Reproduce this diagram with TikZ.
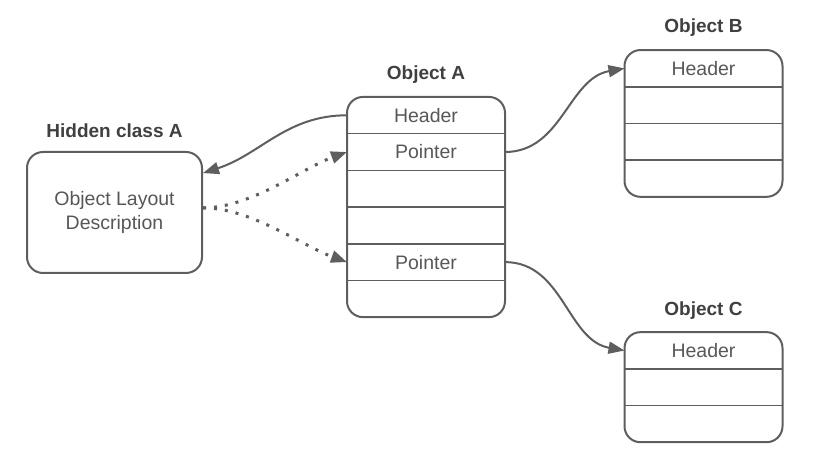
\documentclass[tikz,border=0pt]{standalone}
\usepackage{fontspec}
\setmainfont{Liberation Sans}
\usetikzlibrary{arrows.meta, positioning}
\definecolor{strek}{HTML}{5E5E5E}
\definecolor{tekst}{HTML}{575757}
\definecolor{mork}{HTML}{404040}

\begin{document}
\begin{tikzpicture}[
    x=1pt, y=1pt,
    node distance = 0pt,
    felt/.style = {rectangle, minimum width=158pt, minimum height=36.7pt,
        inner sep=0pt, outer sep=0pt, text=tekst},
    boks/.style = {rectangle, draw=strek, line width=2pt, rounded corners=16pt,
        minimum width=175pt, minimum height=121pt, align=center, text=tekst},
    ramme/.style = {strek, line width=2pt, rounded corners=16pt},
    skille/.style = {strek, line width=1.6pt},
    overskrift/.style = {font=\fontsize{19}{22}\selectfont\bfseries, text=mork, inner sep=0pt},
    pil/.style = {strek, line width=2pt, -{Triangle[length=16pt,width=12pt]}},
    prikk/.style = {strek, line width=3pt, dash pattern=on 3pt off 8pt,
        -{Triangle[length=16pt,width=12pt]}},
    font=\fontsize{19.5}{24}\selectfont
    ]
    \useasboundingbox (0,0) rectangle (817,457);
    %nodes
    \node[boks] (skjult) at (114.5,244.5) {Object Layout\\Description};
    \node[overskrift, above=13pt of skjult] (tskjult) {Hidden class A};

    \node[felt] (a1) at (426,341.7) {Header};
    \node[felt, below=of a1] (a2) {Pointer};
    \node[felt, below=of a2] (a3) {};
    \node[felt, below=of a3] (a4) {};
    \node[felt, below=of a4] (a5) {Pointer};
    \node[felt, below=of a5] (a6) {};
    \node[overskrift, above=13pt of a1] (tA) {Object A};

    \node[felt] (b1) at (703.5,388.6) {Header};
    \node[felt, below=of b1] (b2) {};
    \node[felt, below=of b2] (b3) {};
    \node[felt, below=of b3] (b4) {};
    \node[overskrift, above=13pt of b1] (tB) {Object B};

    \node[felt] (c1) at (703.5,106.5) {Header};
    \node[felt, below=of c1] (c2) {};
    \node[felt, below=of c2] (c3) {};
    \node[overskrift, above=13pt of c1] (tC) {Object C};

    % frames
    \draw[ramme] (a1.north west) rectangle (a6.south east);
    \draw[ramme] (b1.north west) rectangle (b4.south east);
    \draw[ramme] (c1.north west) rectangle (c3.south east);
    \foreach \i in {1,...,5} \draw[skille] (a\i.south west) -- (a\i.south east);
    \foreach \i in {1,...,3} \draw[skille] (b\i.south west) -- (b\i.south east);
    \foreach \i in {1,2} \draw[skille] (c\i.south west) -- (c\i.south east);

    % edges
    \draw[pil] (a1.west) to[out=180, in=18] (skjult.24);
    \draw[prikk] (skjult.3) to[out=0, in=200, looseness=0.8] (a2.west);
    \draw[prikk] (skjult.3) to[out=0, in=160, looseness=0.8] (a5.west);
    \draw[pil] (a2.east) to[out=0, in=190] (b1.west);
    \draw[pil] (a5.east) to[out=0, in=170] (c1.west);
\end{tikzpicture}
\end{document}
